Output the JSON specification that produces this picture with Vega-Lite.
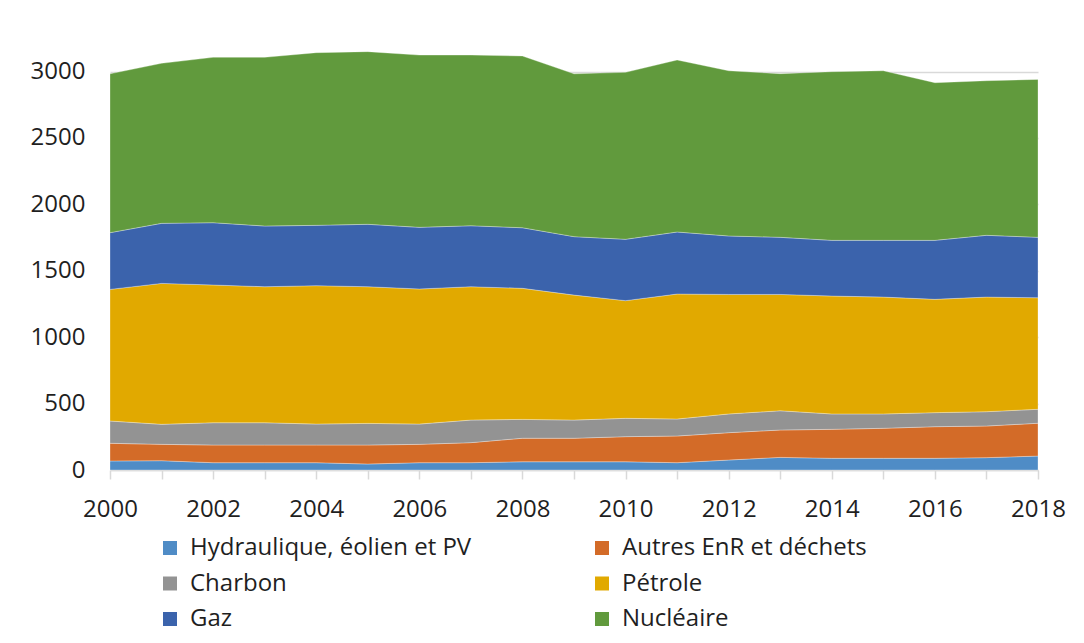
{
  "$schema": "https://vega.github.io/schema/vega-lite/v6.json",
  "autosize": {"type": "none"},
  "width": 928,
  "height": 425,
  "padding": {"left": 110, "top": 45, "right": 46, "bottom": 173},
  "background": "#ffffff",
  "config": {
    "font": "Open Sans",
    "view": {"stroke": null}
  },
  "data": {
    "values": [
      {"annee":2000,"source":"Hydraulique, éolien et PV","ordre":1,"valeur":68},
      {"annee":2000,"source":"Autres EnR et déchets","ordre":2,"valeur":133},
      {"annee":2000,"source":"Charbon","ordre":3,"valeur":168},
      {"annee":2000,"source":"Pétrole","ordre":4,"valeur":991},
      {"annee":2000,"source":"Gaz","ordre":5,"valeur":427},
      {"annee":2000,"source":"Nucléaire","ordre":6,"valeur":1196},
      {"annee":2001,"source":"Hydraulique, éolien et PV","ordre":1,"valeur":70},
      {"annee":2001,"source":"Autres EnR et déchets","ordre":2,"valeur":123},
      {"annee":2001,"source":"Charbon","ordre":3,"valeur":151},
      {"annee":2001,"source":"Pétrole","ordre":4,"valeur":1061},
      {"annee":2001,"source":"Gaz","ordre":5,"valeur":452},
      {"annee":2001,"source":"Nucléaire","ordre":6,"valeur":1205},
      {"annee":2002,"source":"Hydraulique, éolien et PV","ordre":1,"valeur":55},
      {"annee":2002,"source":"Autres EnR et déchets","ordre":2,"valeur":133},
      {"annee":2002,"source":"Charbon","ordre":3,"valeur":168},
      {"annee":2002,"source":"Pétrole","ordre":4,"valeur":1037},
      {"annee":2002,"source":"Gaz","ordre":5,"valeur":469},
      {"annee":2002,"source":"Nucléaire","ordre":6,"valeur":1245},
      {"annee":2003,"source":"Hydraulique, éolien et PV","ordre":1,"valeur":55},
      {"annee":2003,"source":"Autres EnR et déchets","ordre":2,"valeur":133},
      {"annee":2003,"source":"Charbon","ordre":3,"valeur":168},
      {"annee":2003,"source":"Pétrole","ordre":4,"valeur":1024},
      {"annee":2003,"source":"Gaz","ordre":5,"valeur":457},
      {"annee":2003,"source":"Nucléaire","ordre":6,"valeur":1270},
      {"annee":2004,"source":"Hydraulique, éolien et PV","ordre":1,"valeur":55},
      {"annee":2004,"source":"Autres EnR et déchets","ordre":2,"valeur":133},
      {"annee":2004,"source":"Charbon","ordre":3,"valeur":158},
      {"annee":2004,"source":"Pétrole","ordre":4,"valeur":1042},
      {"annee":2004,"source":"Gaz","ordre":5,"valeur":454},
      {"annee":2004,"source":"Nucléaire","ordre":6,"valeur":1300},
      {"annee":2005,"source":"Hydraulique, éolien et PV","ordre":1,"valeur":45},
      {"annee":2005,"source":"Autres EnR et déchets","ordre":2,"valeur":143},
      {"annee":2005,"source":"Charbon","ordre":3,"valeur":163},
      {"annee":2005,"source":"Pétrole","ordre":4,"valeur":1029},
      {"annee":2005,"source":"Gaz","ordre":5,"valeur":470},
      {"annee":2005,"source":"Nucléaire","ordre":6,"valeur":1300},
      {"annee":2006,"source":"Hydraulique, éolien et PV","ordre":1,"valeur":55},
      {"annee":2006,"source":"Autres EnR et déchets","ordre":2,"valeur":138},
      {"annee":2006,"source":"Charbon","ordre":3,"valeur":153},
      {"annee":2006,"source":"Pétrole","ordre":4,"valeur":1017},
      {"annee":2006,"source":"Gaz","ordre":5,"valeur":464},
      {"annee":2006,"source":"Nucléaire","ordre":6,"valeur":1297},
      {"annee":2007,"source":"Hydraulique, éolien et PV","ordre":1,"valeur":55},
      {"annee":2007,"source":"Autres EnR et déchets","ordre":2,"valeur":151},
      {"annee":2007,"source":"Charbon","ordre":3,"valeur":170},
      {"annee":2007,"source":"Pétrole","ordre":4,"valeur":1004},
      {"annee":2007,"source":"Gaz","ordre":5,"valeur":459},
      {"annee":2007,"source":"Nucléaire","ordre":6,"valeur":1285},
      {"annee":2008,"source":"Hydraulique, éolien et PV","ordre":1,"valeur":62},
      {"annee":2008,"source":"Autres EnR et déchets","ordre":2,"valeur":177},
      {"annee":2008,"source":"Charbon","ordre":3,"valeur":142},
      {"annee":2008,"source":"Pétrole","ordre":4,"valeur":987},
      {"annee":2008,"source":"Gaz","ordre":5,"valeur":456},
      {"annee":2008,"source":"Nucléaire","ordre":6,"valeur":1293},
      {"annee":2009,"source":"Hydraulique, éolien et PV","ordre":1,"valeur":62},
      {"annee":2009,"source":"Autres EnR et déchets","ordre":2,"valeur":177},
      {"annee":2009,"source":"Charbon","ordre":3,"valeur":137},
      {"annee":2009,"source":"Pétrole","ordre":4,"valeur":941},
      {"annee":2009,"source":"Gaz","ordre":5,"valeur":440},
      {"annee":2009,"source":"Nucléaire","ordre":6,"valeur":1226},
      {"annee":2010,"source":"Hydraulique, éolien et PV","ordre":1,"valeur":62},
      {"annee":2010,"source":"Autres EnR et déchets","ordre":2,"valeur":189},
      {"annee":2010,"source":"Charbon","ordre":3,"valeur":138},
      {"annee":2010,"source":"Pétrole","ordre":4,"valeur":886},
      {"annee":2010,"source":"Gaz","ordre":5,"valeur":462},
      {"annee":2010,"source":"Nucléaire","ordre":6,"valeur":1257},
      {"annee":2011,"source":"Hydraulique, éolien et PV","ordre":1,"valeur":55},
      {"annee":2011,"source":"Autres EnR et déchets","ordre":2,"valeur":201},
      {"annee":2011,"source":"Charbon","ordre":3,"valeur":128},
      {"annee":2011,"source":"Pétrole","ordre":4,"valeur":941},
      {"annee":2011,"source":"Gaz","ordre":5,"valeur":467},
      {"annee":2011,"source":"Nucléaire","ordre":6,"valeur":1295},
      {"annee":2012,"source":"Hydraulique, éolien et PV","ordre":1,"valeur":75},
      {"annee":2012,"source":"Autres EnR et déchets","ordre":2,"valeur":206},
      {"annee":2012,"source":"Charbon","ordre":3,"valeur":141},
      {"annee":2012,"source":"Pétrole","ordre":4,"valeur":900},
      {"annee":2012,"source":"Gaz","ordre":5,"valeur":440},
      {"annee":2012,"source":"Nucléaire","ordre":6,"valeur":1244},
      {"annee":2013,"source":"Hydraulique, éolien et PV","ordre":1,"valeur":95},
      {"annee":2013,"source":"Autres EnR et déchets","ordre":2,"valeur":206},
      {"annee":2013,"source":"Charbon","ordre":3,"valeur":145},
      {"annee":2013,"source":"Pétrole","ordre":4,"valeur":876},
      {"annee":2013,"source":"Gaz","ordre":5,"valeur":430},
      {"annee":2013,"source":"Nucléaire","ordre":6,"valeur":1232},
      {"annee":2014,"source":"Hydraulique, éolien et PV","ordre":1,"valeur":88},
      {"annee":2014,"source":"Autres EnR et déchets","ordre":2,"valeur":218},
      {"annee":2014,"source":"Charbon","ordre":3,"valeur":116},
      {"annee":2014,"source":"Pétrole","ordre":4,"valeur":888},
      {"annee":2014,"source":"Gaz","ordre":5,"valeur":419},
      {"annee":2014,"source":"Nucléaire","ordre":6,"valeur":1270},
      {"annee":2015,"source":"Hydraulique, éolien et PV","ordre":1,"valeur":88},
      {"annee":2015,"source":"Autres EnR et déchets","ordre":2,"valeur":226},
      {"annee":2015,"source":"Charbon","ordre":3,"valeur":108},
      {"annee":2015,"source":"Pétrole","ordre":4,"valeur":880},
      {"annee":2015,"source":"Gaz","ordre":5,"valeur":427},
      {"annee":2015,"source":"Nucléaire","ordre":6,"valeur":1277},
      {"annee":2016,"source":"Hydraulique, éolien et PV","ordre":1,"valeur":88},
      {"annee":2016,"source":"Autres EnR et déchets","ordre":2,"valeur":238},
      {"annee":2016,"source":"Charbon","ordre":3,"valeur":106},
      {"annee":2016,"source":"Pétrole","ordre":4,"valeur":853},
      {"annee":2016,"source":"Gaz","ordre":5,"valeur":444},
      {"annee":2016,"source":"Nucléaire","ordre":6,"valeur":1187},
      {"annee":2017,"source":"Hydraulique, éolien et PV","ordre":1,"valeur":93},
      {"annee":2017,"source":"Autres EnR et déchets","ordre":2,"valeur":238},
      {"annee":2017,"source":"Charbon","ordre":3,"valeur":108},
      {"annee":2017,"source":"Pétrole","ordre":4,"valeur":863},
      {"annee":2017,"source":"Gaz","ordre":5,"valeur":465},
      {"annee":2017,"source":"Nucléaire","ordre":6,"valeur":1164},
      {"annee":2018,"source":"Hydraulique, éolien et PV","ordre":1,"valeur":105},
      {"annee":2018,"source":"Autres EnR et déchets","ordre":2,"valeur":247},
      {"annee":2018,"source":"Charbon","ordre":3,"valeur":105},
      {"annee":2018,"source":"Pétrole","ordre":4,"valeur":840},
      {"annee":2018,"source":"Gaz","ordre":5,"valeur":455},
      {"annee":2018,"source":"Nucléaire","ordre":6,"valeur":1189}
    ]
  },
  "mark": {"type": "area", "stroke": "#ffffff", "strokeWidth": 0.6, "strokeOpacity": 0.5},
  "encoding": {
    "x": {
      "field": "annee",
      "type": "quantitative",
      "scale": {"domain": [2000, 2018], "nice": false, "zero": false},
      "axis": {
        "title": null,
        "values": [2000,2001,2002,2003,2004,2005,2006,2007,2008,2009,2010,2011,2012,2013,2014,2015,2016,2017,2018],
        "labelExpr": "datum.value % 2 == 0 ? datum.value : ''",
        "format": "d",
        "grid": false,
        "domainColor": "#d9d9d9",
        "domainWidth": 1.5,
        "tickColor": "#d9d9d9",
        "tickWidth": 1.5,
        "tickSize": 9,
        "labelPadding": 18,
        "labelFontSize": 24,
        "labelColor": "#1f1f1f",
        "labelFont": "Open Sans",
        "labelOverlap": false,
        "labelFlush": false
      }
    },
    "y": {
      "field": "valeur",
      "type": "quantitative",
      "stack": "zero",
      "scale": {"domain": [0, 3200], "nice": false},
      "axis": {
        "title": null,
        "values": [0, 500, 1000, 1500, 2000, 2500, 3000],
        "format": "d",
        "domain": false,
        "ticks": false,
        "grid": true,
        "gridColor": "#d9d9d9",
        "gridWidth": 1.5,
        "labelPadding": 25,
        "labelFontSize": 24,
        "labelColor": "#1f1f1f",
        "labelFont": "Open Sans"
      }
    },
    "order": {"field": "ordre", "type": "quantitative", "sort": "ascending"},
    "color": {
      "field": "source",
      "type": "nominal",
      "scale": {
        "domain": ["Hydraulique, éolien et PV", "Autres EnR et déchets", "Charbon", "Pétrole", "Gaz", "Nucléaire"],
        "range": ["#4f8cc6", "#d36b28", "#939393", "#e1a900", "#3b63ac", "#619a3d"]
      },
      "legend": {
        "title": null,
        "orient": "none",
        "direction": "horizontal",
        "legendX": 48,
        "legendY": 491,
        "columns": 2,
        "columnPadding": 118,
        "rowPadding": 11.5,
        "symbolType": "square",
        "symbolSize": 196,
        "symbolStrokeWidth": 0,
        "labelFontSize": 24,
        "labelFont": "Open Sans",
        "labelColor": "#1f1f1f",
        "labelOffset": 8,
        "labelLimit": 400
      }
    }
  }
}
